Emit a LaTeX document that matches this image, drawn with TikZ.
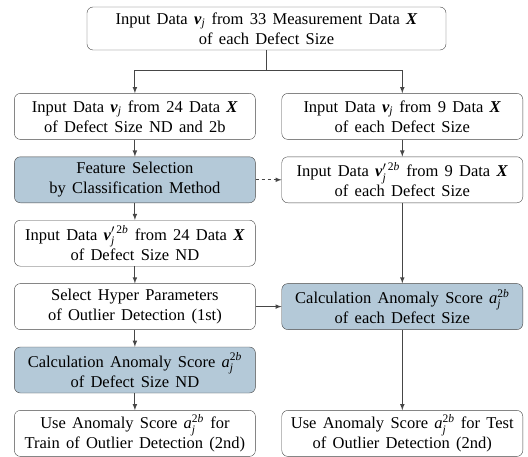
\documentclass[tikz,border=0pt]{standalone}
\usepackage{amsmath}
\usepackage{fontspec}
\setmainfont{Liberation Serif}
\newfontfamily\diagfont{Liberation Serif}
\usepackage{tikz}
\usetikzlibrary{arrows,matrix,positioning}

\definecolor{boxblue}{RGB}{180,201,216}
\definecolor{linegray}{RGB}{70,70,70}
\newcommand{\vv}{\textbf{\textit{v}}}
\newcommand{\vj}{$\vv_{\textit{j}}$}
\newcommand{\vpj}{$\vv'^{\,\textrm{2}\textit{b}}_{\textit{j}}$}
\newcommand{\aj}{$\textit{a}^{\textrm{2}\textit{b}}_{\textit{j}}$}
\newcommand{\XX}{\textbf{\textit{X}}}

\tikzset{
  flowbox/.style={draw=linegray, rounded corners=6pt, fill=white, align=center,
    minimum width=241pt, minimum height=46pt, inner sep=2pt,
    font=\diagfont\fontsize{16.5}{20}\selectfont\spaceskip 0.38em plus 0.1em\relax},
  bluebox/.style={flowbox, fill=boxblue},
  flowline/.style={draw=linegray, line width=1.1pt, -latex}
}

\begin{document}
\begin{tikzpicture}[x=1pt,y=1pt]
\useasboundingbox (0,0) rectangle (528,-457);
\node[flowbox, minimum width=359pt, minimum height=43pt] (top) at (266.5,-28.5)
  {Input Data \vj\ from 33 Measurement Data \XX\\ of each Defect Size};

\matrix (m)[anchor=north west, inner sep=0pt, column sep=26pt, row sep=17pt] at (14,-93) {
\node[flowbox] (m-1-1) {Input Data \vj\ from 24 Data \XX\\ of Defect Size ND and 2b}; &
\node[flowbox] (m-1-2) {Input Data \vj\ from 9 Data \XX\\ of each Defect Size}; \\
\node[bluebox] (m-2-1) {Feature Selection\\ by Classification Method}; &
\node[flowbox] (m-2-2) {Input Data \vpj\ from 9 Data \XX\\ of each Defect Size}; \\
\node[flowbox] (m-3-1) {Input Data \vpj\ from 24 Data \XX\\ of Defect Size ND}; & \\
\node[flowbox] (m-4-1) {Select Hyper Parameters\\ of Outlier Detection (1st)}; &
\node[bluebox] (m-4-2) {Calculation Anomaly Score \aj\\ of each Defect Size}; \\
\node[bluebox] (m-5-1) {Calculation Anomaly Score \aj\\ of Defect Size ND}; & \\
\node[flowbox] (m-6-1) {Use Anomaly Score \aj\ for\\ Train of Outlier Detection (2nd)}; &
\node[flowbox] (m-6-2) {Use Anomaly Score \aj\ for Test\\ of Outlier Detection (2nd)}; \\
};

\draw[draw=linegray, line width=1.1pt] (top.south) -- ++(0,-20) coordinate (split);
\draw[flowline] (split) -| (m-1-1.north);
\draw[flowline] (split) -| (m-1-2.north);
\draw[flowline] (m-1-1) -- (m-2-1);
\draw[flowline] (m-2-1) -- (m-3-1);
\draw[flowline] (m-3-1) -- (m-4-1);
\draw[flowline] (m-4-1) -- (m-5-1);
\draw[flowline] (m-5-1) -- (m-6-1);
\draw[flowline] (m-1-2) -- (m-2-2);
\draw[flowline] (m-2-2) -- (m-4-2);
\draw[flowline] (m-4-2) -- (m-6-2);
\draw[flowline, dashed] (m-2-1) -- (m-2-2);
\draw[flowline] (m-4-1) -- (m-4-2);
\end{tikzpicture}
\end{document}
